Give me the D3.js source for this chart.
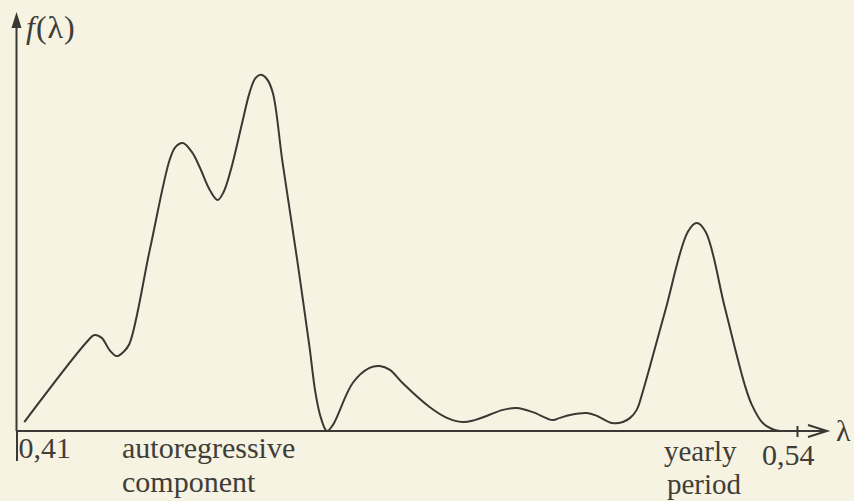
<!DOCTYPE html>
<html>
<head>
<meta charset="utf-8">
<script src="https://cdn.jsdelivr.net/npm/d3@7"></script>
<style>
  html, body { margin: 0; padding: 0; background: #f6f3e2; }
  svg { display: block; }
  text { font-family: "Liberation Serif", "DejaVu Serif", serif; fill: #403d38; }
</style>
</head>
<body>
<svg width="854" height="501"></svg>
<script>
// spectral density (lambda, f)
var lambda = [0.4113, 0.4217, 0.4230, 0.4242, 0.4255, 0.4267, 0.4278, 0.4288, 0.4322, 0.4355,
              0.4365, 0.4377, 0.4392, 0.4405, 0.4422, 0.4435, 0.4445, 0.4457, 0.4477, 0.4488,
              0.4498, 0.4507, 0.4517, 0.4527, 0.4543, 0.4567, 0.4588, 0.4598, 0.4607, 0.4617,
              0.4627, 0.4660, 0.4688, 0.4705, 0.4722, 0.4743, 0.4788, 0.4817, 0.4843, 0.4863,
              0.4883, 0.4910, 0.4933, 0.4960, 0.4993, 0.5005, 0.5022, 0.5050, 0.5067, 0.5092,
              0.5110, 0.5122, 0.5133, 0.5143, 0.5180, 0.5218, 0.5233, 0.5248, 0.5280, 0.5313,
              0.5325, 0.5343, 0.5363, 0.5372];
var density = [0.028, 0.278, 0.300, 0.291, 0.253, 0.234, 0.247, 0.272, 0.566, 0.847,
               0.888, 0.900, 0.872, 0.825, 0.753, 0.722, 0.747, 0.816, 0.972, 1.056,
               1.103, 1.113, 1.100, 1.056, 0.841, 0.541, 0.263, 0.119, 0.041, 0.000,
               0.019, 0.150, 0.197, 0.203, 0.191, 0.150, 0.075, 0.041, 0.028, 0.034,
               0.047, 0.066, 0.072, 0.059, 0.034, 0.041, 0.050, 0.056, 0.047, 0.025,
               0.028, 0.041, 0.066, 0.122, 0.372, 0.622, 0.650, 0.622, 0.384, 0.144,
               0.081, 0.025, 0.003, 0.000];
var tickValues = [0.41, 0.54];
var tickLabels = ["0,41", "0,54"];

var dataset = lambda.map(function (l, i) { return { l: l, f: density[i] }; });

var svg = d3.select("svg");
var ink = "#3a3834";

var xScale = d3.scaleLinear().domain([0.41, 0.54]).range([16.5, 797]);
var yScale = d3.scaleLinear().domain([0, 1.25]).range([431, 31]);
var x0 = xScale(0.41), y0 = yScale(0);

// x axis through d3.axisBottom, ticks restyled afterwards
var xAxis = svg.append("g")
    .attr("transform", "translate(0," + y0 + ")")
    .call(d3.axisBottom(xScale).tickValues(tickValues).tickSize(0).tickFormat(""))
xAxis.select(".domain").remove();
xAxis.selectAll(".tick line")
    .attr("stroke", ink).attr("stroke-width", 2)
    .attr("y1", function (d, i) { return i == 0 ? 0 : -5; })
    .attr("y2", function (d, i) { return i == 0 ? 30 : 6; });

svg.append("line")
    .attr("x1", x0).attr("x2", 826).attr("y1", y0).attr("y2", y0)
    .attr("stroke", ink).attr("stroke-width", 2);
// open arrow head on lambda axis
svg.append("path")
    .attr("d", "M808," + (y0 - 6) + "L827," + y0 + "L808," + (y0 + 6))
    .attr("fill", "none").attr("stroke", ink).attr("stroke-width", 2);

// y axis with filled arrow
svg.append("line")
    .attr("x1", x0).attr("x2", x0).attr("y1", 22).attr("y2", y0)
    .attr("stroke", ink).attr("stroke-width", 2);
svg.append("path")
    .attr("d", "M" + x0 + ",12L" + (x0 + 5) + ",28L" + (x0 - 5) + ",28Z")
    .attr("fill", ink);

// curve
var line = d3.line()
    .x(function (d) { return xScale(d.l); })
    .y(function (d) { return yScale(d.f); })
    .curve(d3.curveCatmullRom.alpha(0.5));

svg.append("path")
    .datum(dataset)
    .attr("d", line)
    .attr("fill", "none")
    .attr("stroke", ink)
    .attr("stroke-width", 2)
    .attr("stroke-linejoin", "round");

// labels
var fs = 30;
svg.append("text").attr("x", xScale(0.41) + 2).attr("y", 458).attr("font-size", fs).text(tickLabels[0]);
svg.append("text").attr("x", xScale(0.54) - 35).attr("y", 465).attr("font-size", fs).text(tickLabels[1]);

svg.append("text").attr("x", 122).attr("y", 458).attr("font-size", fs).text("autoregressive");
svg.append("text").attr("x", 122).attr("y", 492).attr("font-size", fs).text("component");
svg.append("text").attr("x", 664).attr("y", 461).attr("font-size", 29).text("yearly");
svg.append("text").attr("x", 667).attr("y", 494).attr("font-size", 29).text("period");

svg.append("text").attr("x", 836).attr("y", 441).attr("font-size", fs).text("λ");

var fl = svg.append("text").attr("x", 26).attr("y", 38).attr("font-size", 32).attr("letter-spacing", 1);
fl.append("tspan").attr("font-style", "italic").text("f");
fl.append("tspan").text("(λ)");
</script>
</body>
</html>
